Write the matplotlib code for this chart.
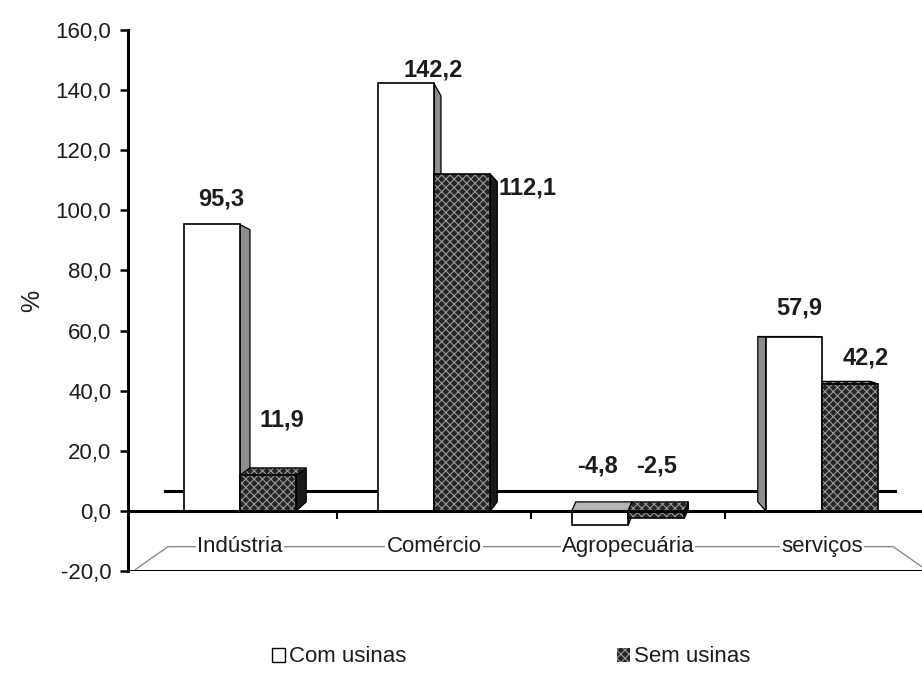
import matplotlib.pyplot as plt
import numpy as np
from matplotlib.patches import Polygon, Patch
from matplotlib.ticker import FuncFormatter

plt.rcParams['font.family'] = ['Liberation Sans', 'DejaVu Sans']
plt.rcParams['hatch.linewidth'] = 0.8

categorias = ['Indústria', 'Comércio', 'Agropecuária', 'serviços']
com_usinas = [95.3, 142.2, -4.8, 57.9]
sem_usinas = [11.9, 112.1, -2.5, 42.2]
series_nomes = ['Com usinas', 'Sem usinas']

# deslocamento dos rótulos de valor (em pontos) e profundidade lateral das barras (px)
off_com = [(7, 18), (20, 10), (-2, 43), (4, 21)]
off_sem = [(10, 40), (47, -10), (0, 38), (11, 19)]
prof_x = [10, 7, 4, -8]

TXT = '#1c1c1c'
W_PX, H_PX = 922, 679
fig = plt.figure(figsize=(W_PX / 100, H_PX / 100), dpi=100)
ax = fig.add_axes([128 / W_PX, 1 - 571 / H_PX, 1 - 128 / W_PX, (571 - 30) / H_PX])
ax.set_xlim(-0.577, 3.515)
ax.set_ylim(-20, 160)

# conversão pixel -> dados para desenhar a "profundidade" 3D
dxp = (3.515 + 0.577) / (W_PX - 128)
dyp = 180 / (571 - 30)
OLHO = 60.0


def prof(nivel, i):
    dx = prof_x[i] * dxp
    dy = 0.05 * 3.0 * (OLHO - nivel) * dyp
    return dx, dy


def barra3d(xc, w, val, i, frente, lado, topo, hatch=None, hcor=None):
    xl, xr = xc - w / 2, xc + w / 2
    y0, y1 = 0.0, val
    dx0, dy0 = prof(y0, i)
    dx1, dy1 = prof(y1, i)
    xs = xr if dx0 > 0 else xl
    lado_pts = [(xs, y0), (xs, y1), (xs + dx1, y1 + dy1), (xs + dx0, y0 + dy0)]
    ax.add_patch(Polygon(lado_pts, closed=True, facecolor=lado, edgecolor='black', lw=0.9, zorder=2))
    t = max(y0, y1)
    dxt, dyt = prof(t, i)
    if dyt > 0:
        topo_pts = [(xl, t), (xr, t), (xr + dxt, t + dyt), (xl + dxt, t + dyt)]
        if hatch:
            ax.add_patch(Polygon(topo_pts, closed=True, facecolor=topo, edgecolor=hcor, hatch=hatch, lw=0, zorder=2.5))
            ax.add_patch(Polygon(topo_pts, closed=True, fill=False, edgecolor='black', lw=0.9, zorder=2.6))
        else:
            ax.add_patch(Polygon(topo_pts, closed=True, facecolor=topo, edgecolor='black', lw=0.9, zorder=2.5))
    if hatch:
        ax.bar(xc, val, w, bottom=0, color=frente, edgecolor=hcor, hatch=hatch, lw=0, zorder=3)
        ax.bar(xc, val, w, bottom=0, fill=False, edgecolor='black', lw=1.2, zorder=3.1)
    else:
        ax.bar(xc, val, w, bottom=0, color=frente, edgecolor='black', lw=1.2, zorder=3)


x = np.arange(len(categorias))
w = 0.29

# linha do zero na parede do fundo
ax.plot([-0.387, 3.376], [6.7, 6.7], color='black', lw=2.2, zorder=1)

# piso em perspectiva
ax.add_patch(Polygon([(-0.541, -19.6), (-0.371, -11.9), (3.366, -11.9), (3.546, -20)],
                     closed=False, fill=False, edgecolor='#8a8a8a', lw=1.0, zorder=1))

for i in range(len(categorias)):
    barra3d(x[i] - w / 2, w, com_usinas[i], i, 'white', '#8e8e8e', '#b5b5b5')
    barra3d(x[i] + w / 2, w, sem_usinas[i], i, '#262626', '#1a1a1a', '#262626',
            hatch='xxxx', hcor='#9a9a9a')

for i in range(len(categorias)):
    for xc, v, off in ((x[i] - w / 2, com_usinas[i], off_com[i]),
                       (x[i] + w / 2, sem_usinas[i], off_sem[i])):
        ax.annotate(f'{v:.1f}'.replace('.', ','), (xc, v), xytext=off, textcoords='offset points',
                    ha='center', va='center', fontsize=17, fontweight='bold', color=TXT, zorder=6)

for i, c in enumerate(categorias):
    ax.text(x[i], -11.9, c, ha='center', va='center', fontsize=16, color=TXT, zorder=4,
            bbox=dict(boxstyle='square,pad=0.05', facecolor='white', edgecolor='none'))

# eixos
for s in ('top', 'right'):
    ax.spines[s].set_visible(False)
ax.spines['left'].set_linewidth(2.2)
ax.spines['bottom'].set_position(('data', 0))
ax.spines['bottom'].set_linewidth(2.2)
ax.spines['bottom'].set_zorder(5)
ax.axhline(-20, color='black', lw=2.2, zorder=5)

ax.set_yticks(np.arange(-20, 161, 20))
ax.yaxis.set_major_formatter(FuncFormatter(lambda v, p: f'{v:.1f}'.replace('.', ',')))
ax.tick_params(axis='y', direction='out', length=6, width=1.8, pad=6, labelsize=16, labelcolor=TXT)
ax.set_xticks(x[:-1] + 0.5)
ax.set_xticklabels([])
ax.tick_params(axis='x', direction='out', length=6, width=1.5)
ax.set_ylabel('%', fontsize=18, color=TXT, labelpad=8)

handles = [Patch(facecolor='white', edgecolor='black', lw=1.0),
           Patch(facecolor='#262626', edgecolor='#9a9a9a', hatch='xxxx', lw=0)]
fig.legend(handles, series_nomes, loc='center', bbox_to_anchor=(511 / W_PX, 1 - 657 / H_PX),
           ncol=2, frameon=False, fontsize=16, handlelength=0.6, handleheight=0.6,
           handletextpad=0.15, columnspacing=9.5, labelcolor=TXT)

fig.savefig('out.png', dpi=100)
